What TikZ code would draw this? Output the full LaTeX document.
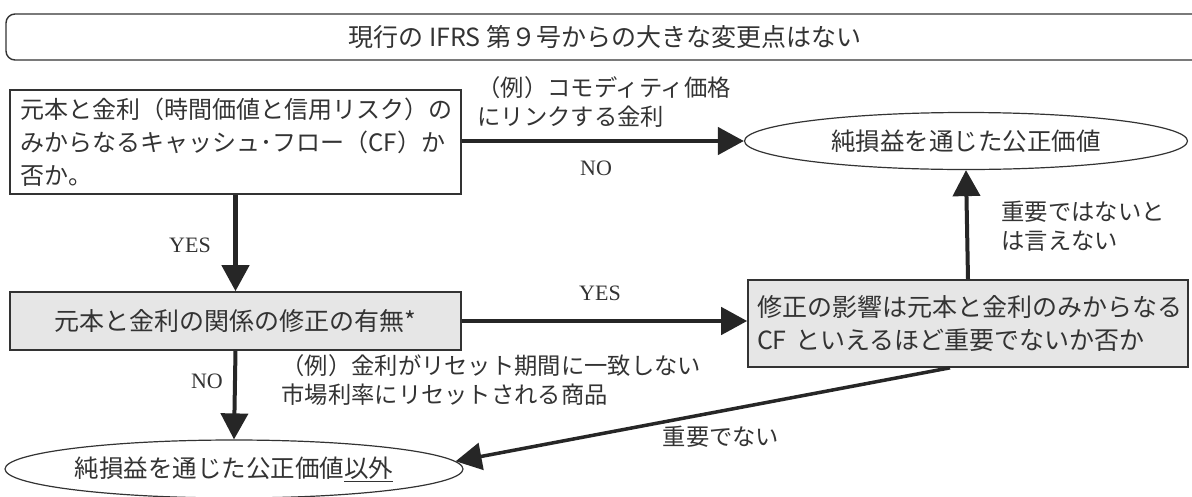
\documentclass[tikz,border=0pt]{standalone}
\usepackage{fontspec}
\setmainfont{Liberation Serif}
\newfontfamily\jp{Noto Sans CJK JP}
\usetikzlibrary{shapes.geometric,arrows.meta}
\definecolor{ink}{HTML}{333333}
\definecolor{boxgray}{HTML}{E6E6E6}
\begin{document}
\begin{tikzpicture}[x=1pt,y=-1pt,
  every node/.style={text=ink},
  jptext/.style={font=\jp\fontsize{23.3}{29}\selectfont},
  boxtext/.style={font=\jp\fontsize{24.5}{33}\selectfont},
  latin/.style={font=\fontsize{22}{24}\selectfont},
  flowbox/.style={draw=ink,line width=1.6pt,rectangle,inner sep=0pt,boxtext},
  ovalbox/.style={draw=ink,line width=1.2pt,ellipse,inner sep=0pt,boxtext},
  conn/.style={draw=black!85,line width=4.5pt,-{Triangle[length=26pt,width=27pt]}},
]
\useasboundingbox (0,0) rectangle (1192,496);
\fill[white] (0,0) rectangle (1192,496);
% top banner
\draw[ink,line width=1.4pt,rounded corners=9pt] (6,14) rectangle (1210,60);
\node[font=\jp\fontsize{25}{28}\selectfont] (banner) at (605,37) {現行の IFRS 第９号からの大きな変更点はない};
% boxes
\node[flowbox,minimum width=451pt,minimum height=104pt,align=left,text width=430pt,font=\jp\fontsize{24}{33}\selectfont] (box1) at (235.5,142)
  {元本と金利（時間価値と信用リスク）の\\みからなるキャッシュ･フロー（CF）か\\否か。};
\node[flowbox,fill=boxgray,minimum width=451pt,minimum height=58pt,font=\jp\fontsize{25}{30}\selectfont] (box2) at (235.5,321)
  {元本と金利の関係の修正の有無*};
\node[flowbox,fill=boxgray,minimum width=440pt,minimum height=87pt,align=left,text width=422pt,font=\jp\fontsize{25}{33}\selectfont] (box3) at (968,323.5)
  {修正の影響は元本と金利のみからなる\\CF といえるほど重要でないか否か};
\node[ovalbox,minimum width=443pt,minimum height=57pt] (el1) at (966,141) {純損益を通じた公正価値};
\node[ovalbox,minimum width=458pt,minimum height=58pt] (el2) at (234,469) {純損益を通じた公正価値\underline{以外}};
% connectors
\draw[conn] (box1.east |- 0,141) -- (el1.west);
\draw[conn] (box1.south) -- (box2.north);
\draw[conn] (box2.east) -- (box2.east -| box3.west);
\draw[conn,line width=4pt] (box3.north) -- (el1.south);
\draw[conn,line width=4pt] (box2.south) -- (el2.north);
\draw[conn,line width=3.5pt] (box3.south) ++(-18,0) coordinate (b3s) (b3s) -- (el2.2);
% labels
\node[jptext,anchor=west,align=left] (lab1) at (474,102) {（例）コモディティ価格\\にリンクする金利};
\node[latin] (no1) at (596,168) {NO};
\node[latin] (yes1) at (190,245) {YES};
\node[latin] (yes2) at (600,293) {YES};
\node[jptext,anchor=west,align=left] (lab2) at (998,226) {重要ではないと\\は言えない};
\node[latin] (no2) at (207,381) {NO};
\node[jptext,anchor=west,align=left] (lab3) at (278,380) {（例）金利がリセット期間に一致しない\\市場利率にリセットされる商品};
\node[jptext] (lab4) at (721,437) {重要でない};
\end{tikzpicture}
\end{document}
